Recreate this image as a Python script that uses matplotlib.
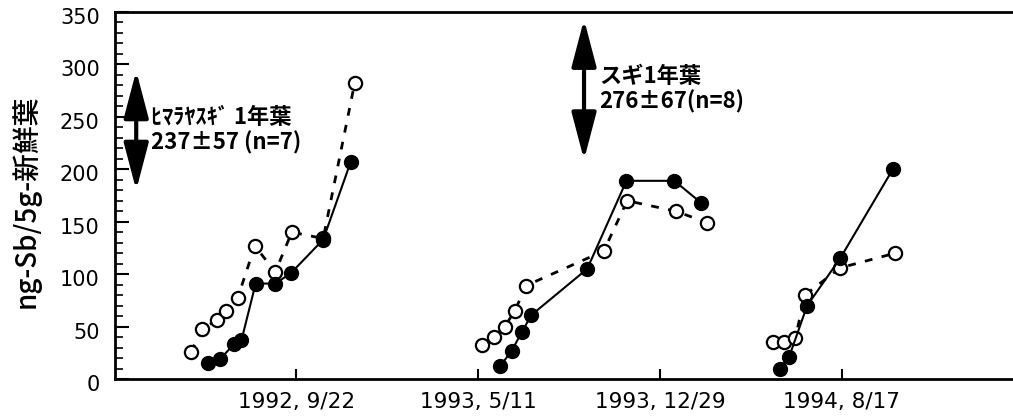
import numpy as np
import matplotlib
matplotlib.use("Agg")
import matplotlib.pyplot as plt
import matplotlib.dates as mdates
import matplotlib.transforms as mtrans
from matplotlib.patches import FancyArrowPatch
from matplotlib.ticker import MultipleLocator

plt.rcParams['font.family'] = ['DejaVu Sans', 'Noto Sans CJK JP']

# ---------------- data ----------------
# filled circles (solid line), three sampling campaigns
filled_dates_1 = ["1992-06-02", "1992-06-17", "1992-07-04", "1992-07-14", "1992-08-01",
                  "1992-08-26", "1992-09-15", "1992-10-26", "1992-11-30"]
filled_vals_1 = [15, 19, 33, 37, 91, 91, 101, 133, 207]
filled_dates_2 = ["1993-06-08", "1993-06-23", "1993-07-06", "1993-07-18", "1993-09-27",
                  "1993-11-16", "1994-01-16", "1994-02-19"]
filled_vals_2 = [12, 27, 45, 61, 105, 189, 189, 168]
filled_dates_3 = ["1994-05-30", "1994-06-11", "1994-07-04", "1994-08-15", "1994-10-21"]
filled_vals_3 = [10, 21, 70, 115, 200]

# open circles (dashed line)
open_dates_1 = ["1992-05-11", "1992-05-25", "1992-06-13", "1992-06-24", "1992-07-09",
                "1992-07-31", "1992-08-26", "1992-09-16", "1992-10-26", "1992-12-05"]
open_vals_1 = [26, 48, 56, 65, 77, 127, 102, 140, 134, 282]
open_dates_2 = ["1993-05-16", "1993-05-31", "1993-06-14", "1993-06-27", "1993-07-11",
                "1993-10-18", "1993-11-17", "1994-01-18", "1994-02-27"]
open_vals_2 = [32, 40, 50, 65, 89, 122, 170, 160, 149]
open_dates_3 = ["1994-05-21", "1994-06-04", "1994-06-19", "1994-07-01", "1994-08-15",
                "1994-10-24"]
open_vals_3 = [35, 35, 39, 80, 106, 120]

# reference ranges (mean ± sd) for one-year leaves
ref_labels = ["ﾋﾏﾗﾔｽｷﾞ 1年葉", "スギ1年葉"]
ref_stats = ["237±57 (n=7)", "276±67(n=8)"]
ref_means = [237, 276]
ref_sds = [57, 67]
ref_dates = ["1992-03-02", "1993-09-23"]

# x tick labels
tick_dates = ["1992-09-22", "1993-05-11", "1993-12-29", "1994-08-17"]
tick_labels = ["1992, 9/22", "1993, 5/11", "1993, 12/29", "1994, 8/17"]
y_label = "ng-Sb/5g-新鮮葉"


def d(lst):
    return mdates.date2num(np.array(lst, dtype="datetime64[D]"))


# ---------------- figure ----------------
fig = plt.figure(figsize=(10.13, 4.16), dpi=100)
ax = fig.add_axes([115 / 1013, 37 / 416, 1 - 115 / 1013, 367 / 416])

open_sets = [(open_dates_1, open_vals_1), (open_dates_2, open_vals_2), (open_dates_3, open_vals_3)]
filled_sets = [(filled_dates_1, filled_vals_1), (filled_dates_2, filled_vals_2),
               (filled_dates_3, filled_vals_3)]

for dates, vals in open_sets:
    ax.plot(d(dates), vals, linestyle=(0, (2.8, 3.4)), lw=2.0, color="black",
            marker="o", ms=9.5, mfc="white", mec="black", mew=1.6, zorder=3)
for dates, vals in filled_sets:
    ax.plot(d(dates), vals, linestyle="-", lw=1.5, color="black",
            marker="o", ms=10, mfc="black", mec="black", zorder=4)

# reference arrows + text
for lab, st, m, s, dt in zip(ref_labels, ref_stats, ref_means, ref_sds, ref_dates):
    x = d([dt])[0]
    arr = FancyArrowPatch((x, m - s), (x, m + s),
                          arrowstyle="<|-|>,head_length=1.45,head_width=0.38",
                          mutation_scale=20, lw=3, color="black",
                          shrinkA=0, shrinkB=0, zorder=5)
    ax.add_patch(arr)
    ax.annotate(f"{lab}\n{st}", xy=(x, m), xytext=(11, 0), textcoords="offset points",
                ha="left", va="center", fontsize=16, fontweight="bold",
                family=["Noto Sans CJK JP", "DejaVu Sans"], linespacing=1.1)

# axes formatting
x_ticks = d(tick_dates)
step = x_ticks[1] - x_ticks[0]
ax.set_xlim(x_ticks[0] - step, x_ticks[0] + 912)
ax.set_ylim(0, 350)
ax.set_xticks(x_ticks)
ax.set_xticklabels(tick_labels)
ax.yaxis.set_major_locator(MultipleLocator(50))
ax.yaxis.set_minor_locator(MultipleLocator(10))

ax.spines["right"].set_visible(False)
for sp in ["top", "left", "bottom"]:
    ax.spines[sp].set_linewidth(2)

ax.tick_params(axis="y", which="major", direction="in", length=10, width=1.5,
               pad=11, labelsize=15)
ax.tick_params(axis="y", which="minor", direction="in", length=6, width=1.2)
ax.tick_params(axis="x", which="major", direction="in", length=7, width=1.5,
               pad=9, labelsize=15.5)

offset = mtrans.ScaledTranslation(0, -4 / 100, fig.dpi_scale_trans)
for lbl in ax.get_yticklabels():
    lbl.set_transform(lbl.get_transform() + offset)

ax.set_ylabel(y_label, fontsize=20, fontweight="medium",
              family=["Noto Sans CJK JP", "DejaVu Sans"])
ax.yaxis.set_label_coords(-0.083, 0.485)

fig.savefig("out.png", dpi=100)
